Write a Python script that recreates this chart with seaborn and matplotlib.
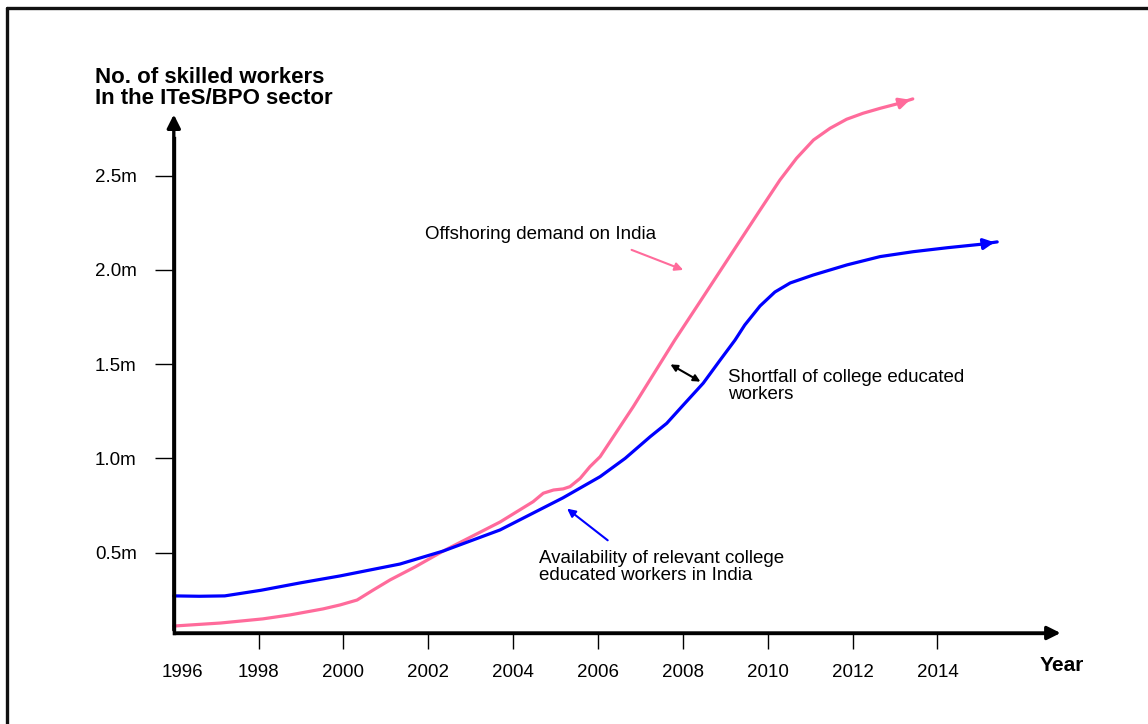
import matplotlib
matplotlib.use('Agg')
import matplotlib.pyplot as plt
import matplotlib.transforms as mtransforms
import seaborn as sns
import pandas as pd

# values (year, millions of workers)
demand_years = [1996.0, 1997.1, 1998.1, 1998.74, 1999.52, 1999.92, 2000.32, 2000.7, 2001.1,
                2001.69, 2002.35, 2003.69, 2004.47, 2004.71, 2004.95, 2005.18, 2005.34,
                2005.58, 2005.81, 2006.05, 2006.83, 2007.81, 2008.4, 2009.11, 2009.82,
                2010.29, 2010.68, 2011.08, 2011.47, 2011.86, 2012.25, 2012.65, 2013.04,
                2013.42]
demand_vals = [0.11, 0.126, 0.148, 0.169, 0.201, 0.222, 0.248, 0.301, 0.355,
               0.424, 0.508, 0.662, 0.77, 0.815, 0.832, 0.838, 0.85,
               0.894, 0.956, 1.009, 1.274, 1.628, 1.83, 2.074, 2.318,
               2.478, 2.593, 2.69, 2.752, 2.8, 2.832, 2.858, 2.881,
               2.908]

supply_years = [1996.0, 1996.6, 1997.2, 1998.06, 1998.98, 1999.92, 2001.33, 2002.35, 2003.69,
                2005.17, 2006.05, 2006.64, 2007.23, 2007.62, 2008.01, 2008.48, 2008.88,
                2009.23, 2009.46, 2009.82, 2010.17, 2010.53, 2011.07, 2011.87, 2012.65,
                2013.43, 2014.23, 2015.01, 2015.41]
supply_vals = [0.27, 0.268, 0.27, 0.30, 0.339, 0.376, 0.439, 0.508, 0.62,
               0.79, 0.903, 1.0, 1.115, 1.186, 1.283, 1.399, 1.522,
               1.628, 1.708, 1.809, 1.883, 1.931, 1.973, 2.027, 2.071,
               2.097, 2.118, 2.136, 2.149]

year_ticks = [1996, 1998, 2000, 2002, 2004, 2006, 2008, 2010, 2012, 2014]
value_ticks = [0.5, 1.0, 1.5, 2.0, 2.5]
value_labels = ['0.5m', '1.0m', '1.5m', '2.0m', '2.5m']

PINK = '#ff6b9b'
BLUE = '#0000ff'

df = pd.concat([
    pd.DataFrame({'year': demand_years, 'workers': demand_vals, 'series': 'demand'}),
    pd.DataFrame({'year': supply_years, 'workers': supply_vals, 'series': 'supply'}),
])

sns.set_style('white')
plt.rcParams['font.family'] = ['Liberation Sans', 'DejaVu Sans']
plt.rcParams['text.color'] = 'black'
plt.rcParams['xtick.color'] = 'black'
plt.rcParams['ytick.color'] = 'black'

fig = plt.figure(figsize=(11.48, 7.24), dpi=100)
ax = fig.add_axes([0, 0, 1, 1])
ax.set_facecolor('none')

sns.lineplot(data=df, x='year', y='workers', hue='series', palette={'demand': PINK, 'supply': BLUE},
             linewidth=2.3, sort=False, legend=False, ax=ax)

# arrow heads at the ends of the curves
for xs, ys, c in [(demand_years, demand_vals, PINK), (supply_years, supply_vals, BLUE)]:
    ax.annotate('', xy=(xs[-1], ys[-1]), xytext=(xs[-2], ys[-2]),
                arrowprops=dict(arrowstyle='-|>', color=c, lw=2.3, mutation_scale=16))

ax.set_xlim(1991.903, 2018.965)
ax.set_ylim(-0.41, 3.433)

x0, y0 = 1996, 0.073
for s in ['top', 'right']:
    ax.spines[s].set_visible(False)
ax.spines['left'].set_position(('data', x0))
ax.spines['bottom'].set_position(('data', y0))
ax.spines['left'].set_bounds(y0, 2.7)
ax.spines['bottom'].set_bounds(x0, 2016.5)
for s in ['left', 'bottom']:
    ax.spines[s].set_linewidth(2.4)
    ax.spines[s].set_color('black')

# axis arrows
ax.annotate('', xy=(2016.97, y0), xytext=(x0, y0),
            arrowprops=dict(arrowstyle='-|>', color='black', lw=2.4, mutation_scale=20))
ax.annotate('', xy=(x0, 2.84), xytext=(x0, y0),
            arrowprops=dict(arrowstyle='-|>', color='black', lw=2.4, mutation_scale=20))

ax.set_xticks(year_ticks)
ax.set_xticklabels([str(y) for y in year_ticks])
ax.set_yticks(value_ticks)
ax.set_yticklabels(value_labels)
ax.tick_params(axis='x', bottom=True, direction='out', length=11.5, width=1, pad=11,
               labelsize=13.5, colors='black')
ax.tick_params(axis='y', left=True, direction='out', length=13.7, width=1, pad=13,
               labelsize=13.5, colors='black')
first = ax.xaxis.get_major_ticks()[0]
first.tick1line.set_visible(False)
first.label1.set_transform(first.label1.get_transform()
                           + mtransforms.ScaledTranslation(0.09, 0, fig.dpi_scale_trans))
ax.set_xlabel('')
ax.set_ylabel('')

# axis titles
fig.text(95 / 1148, 1 - 88 / 724, 'No. of skilled workers\nIn the ITeS/BPO sector',
         ha='left', va='center', fontsize=16, fontweight='bold', linespacing=1.05)
ax.text(2016.42, -0.097, 'Year', ha='left', va='center', fontsize=15, fontweight='bold')

# annotations
ax.annotate('', xy=(2008.07, 1.995), xytext=(2006.73, 2.112),
            arrowprops=dict(arrowstyle='-|>', color=PINK, lw=1.5, mutation_scale=12))
ax.text(2001.92, 2.186, 'Offshoring demand on India', ha='left', va='center', fontsize=13.5)

ax.annotate('', xy=(2007.65, 1.506), xytext=(2008.47, 1.40),
            arrowprops=dict(arrowstyle='<|-|>', color='black', lw=1.5, mutation_scale=10))
ax.text(2009.06, 1.382, 'Shortfall of college educated\nworkers', ha='left', va='center',
        fontsize=13.5, linespacing=1.0)

ax.annotate('', xy=(2005.22, 0.742), xytext=(2006.28, 0.556),
            arrowprops=dict(arrowstyle='-|>', color=BLUE, lw=1.5, mutation_scale=12))
ax.text(2004.61, 0.421, 'Availability of relevant college\neducated workers in India', ha='left',
        va='center', fontsize=13.5, linespacing=1.0)

# outer frame (top and left edges visible)
fig.add_artist(plt.Line2D([7 / 1148, 7 / 1148], [0, 1 - 8 / 724], color='#111111', lw=2.4,
                          transform=fig.transFigure))
fig.add_artist(plt.Line2D([7 / 1148, 1], [1 - 8 / 724, 1 - 8 / 724], color='#111111', lw=2.4,
                          transform=fig.transFigure))

fig.savefig('out.png', dpi=100)
